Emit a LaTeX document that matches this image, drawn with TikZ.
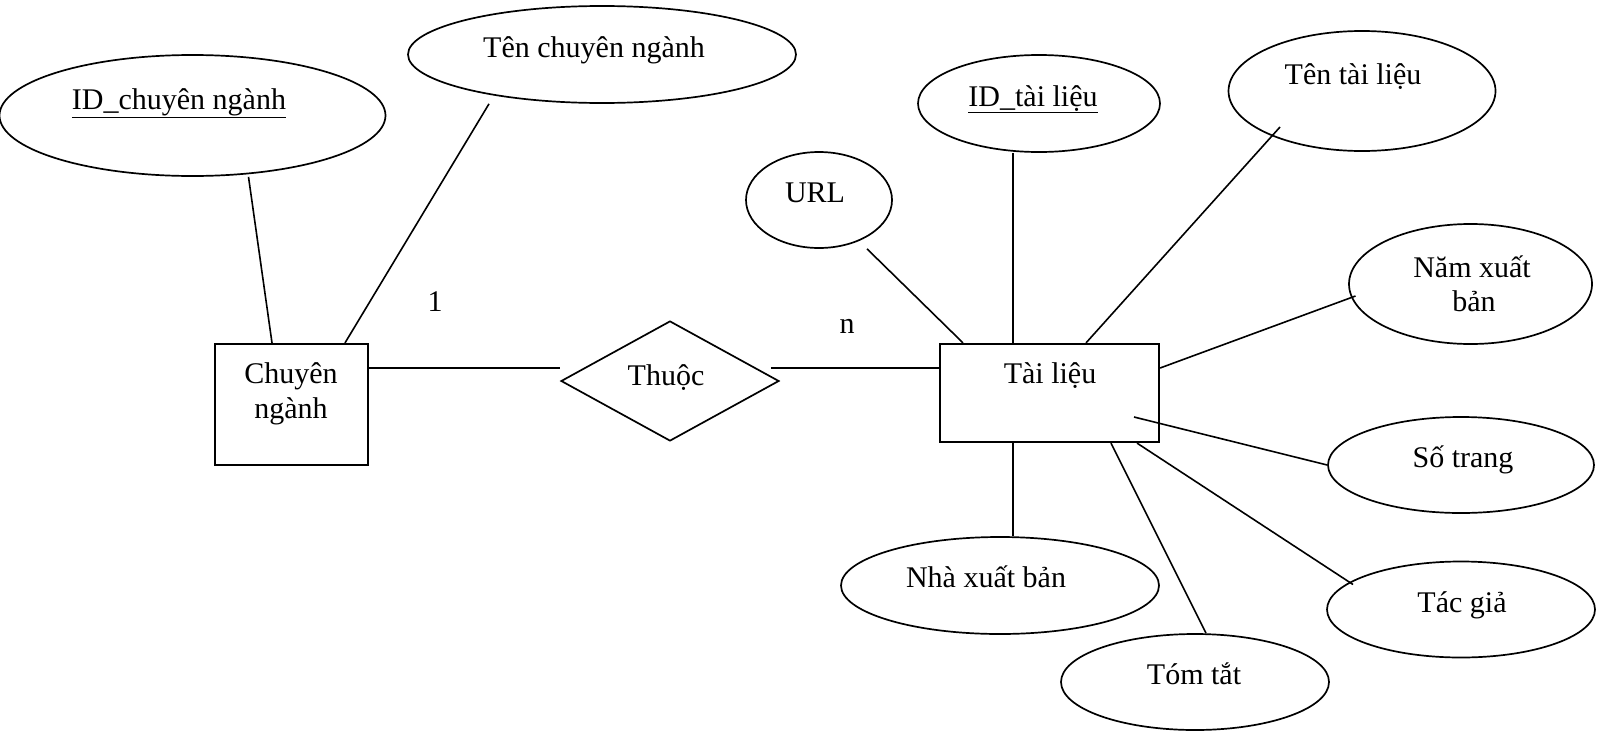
\documentclass[tikz,border=0pt]{standalone}
\usepackage{fontspec}
\setmainfont{Liberation Serif}
\usetikzlibrary{shapes.geometric}
\begin{document}
\begin{tikzpicture}[x=1pt,y=-1pt,
  conn/.style={draw, line width=1.6pt},
  attr/.style={draw, ellipse, line width=1.7pt, inner sep=0pt, minimum width=#1},
  entity/.style={draw, rectangle, line width=2.2pt, inner sep=0pt},
  rel/.style={draw, diamond, line width=1.7pt, inner sep=0pt},
  lbl/.style={anchor=base, inner sep=0pt, font=\fontsize{30}{35}\selectfont},
]
\useasboundingbox (0,0) rectangle (1602,731);

% entities and relationship
\node[entity, minimum width=153pt, minimum height=121pt] (cn) at (291.5,404.5) {};
\node[entity, minimum width=219pt, minimum height=98pt] (tl) at (1049.5,393) {};
\node[rel, minimum width=218pt, minimum height=120pt] (thuoc) at (670,381) {};

% attributes
\node[attr=386pt, minimum height=121pt] (idcn) at (192.5,115.5) {};
\node[attr=388pt, minimum height=97pt] (tencn) at (602,54.5) {};
\node[attr=146pt, minimum height=96pt] (url) at (819,200) {};
\node[attr=242pt, minimum height=97pt] (idtl) at (1039,103.5) {};
\node[attr=267pt, minimum height=120pt] (tentl) at (1362,91) {};
\node[attr=243pt, minimum height=120pt] (nam) at (1470.5,284) {};
\node[attr=266pt, minimum height=96pt] (sotrang) at (1461,465) {};
\node[attr=318pt, minimum height=97pt] (nxb) at (1000,585.5) {};
\node[attr=268pt, minimum height=96pt] (tomtat) at (1195,682) {};
\node[attr=268pt, minimum height=96pt] (tacgia) at (1461,609.5) {};

% texts
\node[lbl] (t-idcn) at (179,109) {\underline{ID\_chuyên ngành}};
\node[lbl] (t-tencn) at (594,57) {Tên chuyên ngành};
\node[lbl] (t-cn1) at (291,383) {Chuyên};
\node[lbl] (t-cn2) at (291,418) {ngành};
\node[lbl] (t-thuoc) at (666,385) {Thuộc};
\node[lbl] (t-url) at (815,202) {URL};
\node[lbl] (t-idtl) at (1033,106) {\underline{ID\_tài liệu}};
\node[lbl] (t-tentl) at (1353,84) {Tên tài liệu};
\node[lbl] (t-nam1) at (1472,277) {Năm xuất};
\node[lbl] (t-nam2) at (1474,311) {bản};
\node[lbl] (t-tl) at (1050,383) {Tài liệu};
\node[lbl] (t-sotrang) at (1463,467) {Số trang};
\node[lbl] (t-nxb) at (986,587) {Nhà xuất bản};
\node[lbl] (t-tomtat) at (1194,684) {Tóm tắt};
\node[lbl] (t-tacgia) at (1462,612) {Tác giả};

% cardinalities
\node[lbl] (card1) at (435,311) {1};
\node[lbl] (cardn) at (847,333) {n};

% connectors
\draw[conn] ([shift={(56,0)}]idcn.south) -- ([shift={(-19.5,0)}]cn.north);
\draw[conn] ([shift={(-113,0)}]tencn.south) -- ([shift={(53.5,0)}]cn.north);
\draw[conn] ([shift={(0,-36.5)}]cn.east) -- ([shift={(0,-13)}]thuoc.west);
\draw[conn] ([shift={(-9,-13)}]thuoc.east) -- ([shift={(0,-25)}]tl.west);
\draw[conn] ([shift={(48,0)}]url.south) -- ([shift={(-86.5,0)}]tl.north);
\draw[conn] ([shift={(-26,0)}]idtl.south) -- ([shift={(-36.5,0)}]tl.north);
\draw[conn] ([shift={(-82,36)}]tentl.center) -- ([shift={(36.5,0)}]tl.north);
\draw[conn] ([shift={(-115,12)}]nam.center) -- ([shift={(0,-25)}]tl.east);
\draw[conn] (sotrang.west) -- ([shift={(84.5,24)}]tl.center);
\draw[conn] ([shift={(13,0)}]nxb.north) -- ([shift={(-36.5,0)}]tl.south);
\draw[conn] ([shift={(11,0)}]tomtat.north) -- ([shift={(61.5,0)}]tl.south);
\draw[conn] ([shift={(-108,-25)}]tacgia.center) -- ([shift={(87.5,0)}]tl.south);
\end{tikzpicture}
\end{document}
